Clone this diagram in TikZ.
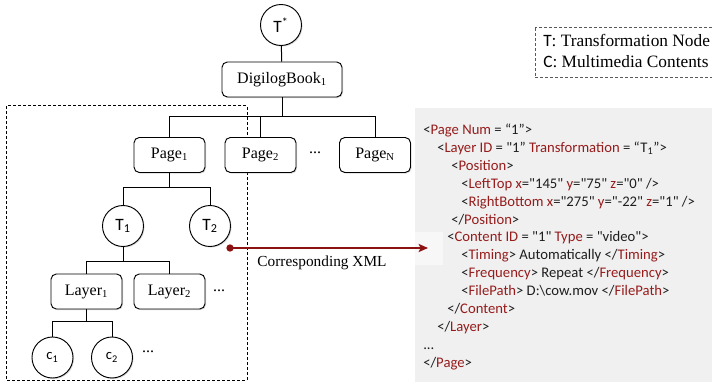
\documentclass[tikz,border=0pt]{standalone}
\usepackage{fontspec}
\setmainfont{Liberation Serif}
\newfontfamily\calfont{Carlito}[Ligatures=TeXOff]
\usetikzlibrary{shadows,arrows.meta}
\definecolor{xred}{RGB}{150,28,28}
\definecolor{arrowred}{RGB}{140,18,18}
\definecolor{panel}{RGB}{240,240,240}
\definecolor{xtext}{RGB}{30,30,30}
\newcommand\tg[1]{\textcolor{xred}{#1}}
\begin{document}
\begin{tikzpicture}[x=0.75pt,y=-0.75pt,
  shad/.style={drop shadow={opacity=0.3,shadow xshift=0.8pt,shadow yshift=-0.8pt}},
  box/.style={draw=black,line width=0.7pt,rounded corners=4pt,fill=white,
    minimum width=53.25pt,minimum height=26.25pt,inner sep=0pt,
    font=\fontsize{12}{14}\selectfont,shad},
  circ/.style={draw=black,circle,line width=0.7pt,fill=white,minimum size=30.75pt,
    inner sep=0pt,font=\calfont\fontsize{13}{15}\selectfont,shad},
  ccirc/.style={circ,font=\calfont\fontsize{11}{13}\selectfont},
  edge/.style={line width=0.75pt,black},
  dotsn/.style={inner sep=0pt,font=\fontsize{12}{14}\selectfont},
  xml/.style={anchor=base west,inner sep=0pt,text=xtext,font=\calfont\fontsize{11}{13}\selectfont},
  legend/.style={anchor=base west,inner sep=0pt,font=\fontsize{13}{15}\selectfont}
]
\useasboundingbox (0,0) rectangle (712,384);

% XML panel
\fill[panel] (415,108) rectangle (712,382);
\fill[white!97!black] (415,232) rectangle (443,265);

% legend
\draw[black!65,line width=0.75pt,dash pattern=on 2.25pt off 1.5pt] (535,28) rectangle (716,78);
\node[legend] (lg1) at (543,47) {{\calfont T}: Transformation Node};
\node[legend] (lg2) at (543,68) {{\calfont C}: Multimedia Contents};

% dashed region
\draw[black,line width=0.75pt,dash pattern=on 2.25pt off 1.5pt] (6,106) rectangle (247,380);

% tree nodes
\node[circ] (tstar) at (281,25) {T\textsuperscript{*}};
\node[box,minimum width=90pt] (digi) at (282,79.5) {DigilogBook\textsubscript{1}};
\node[box] (p1) at (169.5,155) {Page\textsubscript{1}};
\node[box] (p2) at (260.5,155) {Page\textsubscript{2}};
\node[dotsn] (pd) at (315,153) {...};
\node[box] (pn) at (375,155) {Page\textsubscript{N}};
\node[circ] (t1) at (123,226) {T\textsubscript{1}};
\node[circ] (t2) at (210,226) {T\textsubscript{2}};
\node[box] (l1) at (86.5,291.5) {Layer\textsubscript{1}};
\node[box] (l2) at (169.5,291.5) {Layer\textsubscript{2}};
\node[dotsn] (ld) at (219,291) {...};
\node[ccirc] (c1) at (52.5,357.5) {c\textsubscript{1}};
\node[ccirc] (c2) at (112,357.5) {c\textsubscript{2}};
\node[dotsn] (cd) at (148,352) {...};

% bus levels
\coordinate (bus1) at (0,117);
\coordinate (bus2) at (0,188);
\coordinate (bus3) at (0,261);
\coordinate (bus4) at (0,321);

% tree edges
\draw[edge] (tstar) -- (digi);
\draw[edge] (digi.south) -- (digi.south |- bus1);
\draw[edge] (p1.north) |- (pn.north |- bus1) -- (pn.north);
\draw[edge] (p2.north) -- (p2.north |- bus1);
\draw[edge] (p1.south) -- (p1.south |- bus2);
\draw[edge] (t1.north) |- (t2.north |- bus2) -- (t2.north);
\draw[edge] (t1.south) -- (t1.south |- bus3);
\draw[edge] (l1.north) |- (l2.north |- bus3) -- (l2.north);
\draw[edge] (l1.south) -- (l1.south |- bus4);
\draw[edge] (c1.north) |- (c2.north |- bus4) -- (c2.north);

% red arrow
\node[circle,fill=arrowred,minimum size=5.5pt,inner sep=0pt] (dot) at (230,248) {};
\coordinate (tip) at (428,248);
\draw[arrowred,line width=1.4pt,-{Stealth[length=7pt,width=6pt,inset=1.5pt]}] (dot.center) -- (tip);
\node[inner sep=0pt,font=\fontsize{11.5}{13}\selectfont] (lbl) at (322,263) {Corresponding XML};

% XML text
\node[xml] (x1) at (423,134.5) {<\tg{Page Num} = “1”>};
\node[xml] (x2) at (437,152.4) {<\tg{Layer ID} = "1” \tg{Transformation} = “T\textsubscript{1}”>};
\node[xml] (x3) at (451,170.3) {<\tg{Position}>};
\node[xml] (x4) at (461,188.2) {<\tg{LeftTop x}="145" \tg{y}="75" \tg{z}="0" />};
\node[xml] (x5) at (461,206.1) {<\tg{RightBottom x}="275" \tg{y}="-22" \tg{z}="1" />};
\node[xml] (x6) at (451,224.0) {</\tg{Position}>};
\node[xml] (x7) at (447,241.9) {<\tg{Content ID} = "1" \tg{Type} = "video">};
\node[xml] (x8) at (461,259.8) {<\tg{Timing}> Automatically </\tg{Timing}>};
\node[xml] (x9) at (461,277.7) {<\tg{Frequency}> Repeat </\tg{Frequency}>};
\node[xml] (x10) at (461,295.6) {<\tg{FilePath}> D:\textbackslash cow.mov </\tg{FilePath}>};
\node[xml] (x11) at (447,313.5) {</\tg{Content}>};
\node[xml] (x12) at (437,331.4) {</\tg{Layer}>};
\node[xml] (x13) at (423,349.3) {...};
\node[xml] (x14) at (423,367.2) {</\tg{Page}>};
\end{tikzpicture}
\end{document}
